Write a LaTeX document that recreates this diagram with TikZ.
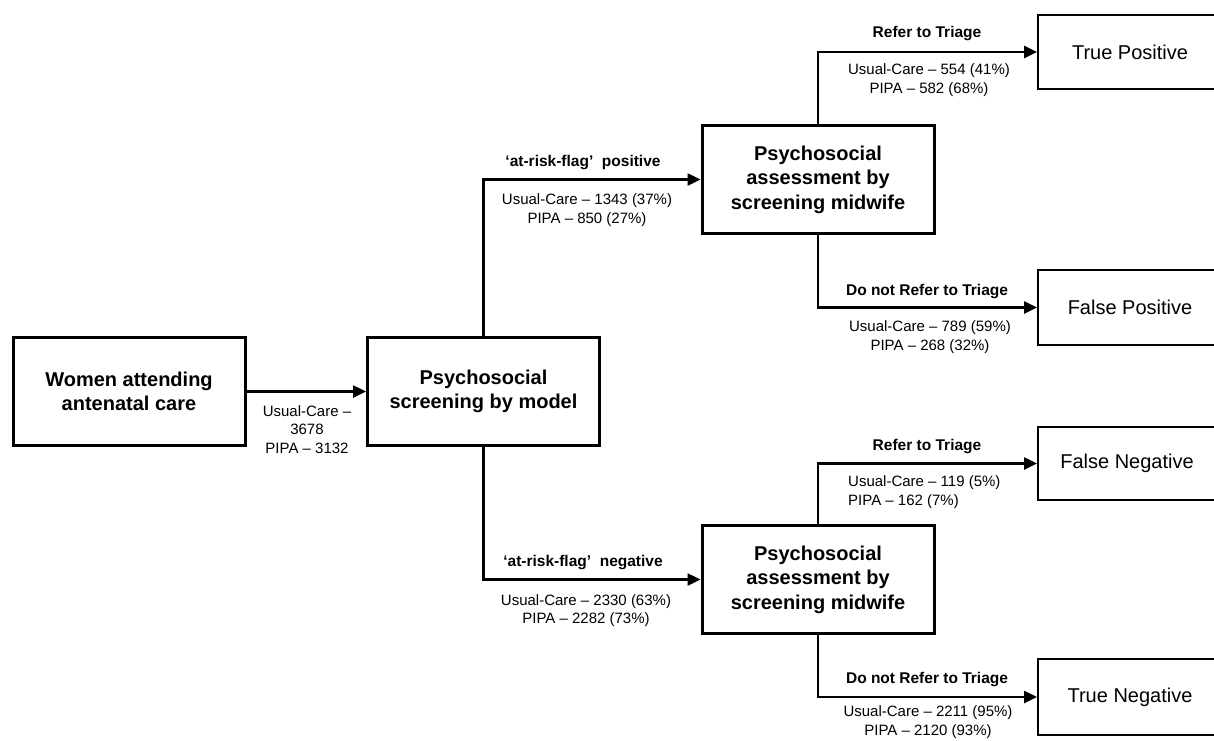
\documentclass[tikz,border=0pt]{standalone}
\usepackage{fontspec}
\setmainfont{Liberation Sans}
\usetikzlibrary{arrows.meta}
\begin{document}
\begin{tikzpicture}[x=1pt,y=-1pt,
  bigbox/.style={draw,line width=3pt,minimum width=232pt,minimum height=108pt,align=center,inner sep=0pt,
     font=\fontsize{20}{24.5}\selectfont\bfseries},
  outbox/.style={draw,line width=2pt,minimum width=178pt,minimum height=73pt,align=center,inner sep=0pt,
     font=\fontsize{20}{24}\selectfont},
  conn/.style={line width=2.5pt,-{Triangle[length=13pt,width=12pt]}},
  branch/.style={font=\fontsize{15.5}{18}\selectfont\bfseries,inner sep=0pt},
  nums/.style={font=\fontsize{15}{18.5}\selectfont,align=center,inner sep=0pt},
  numsl/.style={font=\fontsize{15}{18.5}\selectfont,align=left,inner sep=0pt}
]
\useasboundingbox (0,0) rectangle (1214,740);
\clip (0,0) rectangle (1214,740);

\node[bigbox] (A) at (129,391.5) {Women attending\\antenatal care};
\node[bigbox] (B) at (483.5,391.5) {Psychosocial\\screening by model};
\node[bigbox] (C) at (818,179.5) {Psychosocial\\assessment by\\screening midwife};
\node[bigbox] (D) at (818,579.5) {Psychosocial\\assessment by\\screening midwife};

\node[outbox,minimum width=184pt,minimum height=74pt] (TP) at (1130,52) {True Positive};
\node[outbox,minimum width=184pt,minimum height=75pt] (FP) at (1130,307.5) {False Positive};
\node[outbox,minimum width=178pt,minimum height=73pt] (FN) at (1127,463.5) {False Negative};
\node[outbox,minimum width=184pt,minimum height=76pt] (TN) at (1130,697) {True Negative};

\draw[conn] (A.east) -- (B.west);
\draw[conn] (B.north) |- (C.west);
\draw[conn] (B.south) |- (D.west);
\draw[conn] (C.north) |- (TP.west);
\draw[conn] (C.south) |- (FP.west);
\draw[conn] (D.north) |- (FN.west);
\draw[conn] (D.south) |- (TN.west);

\node[nums,anchor=north] (lab) at (307,405) {Usual-Care –\\3678\\PIPA – 3132};

\node[branch] (bp) at (583,163) {‘at-risk-flag’~ positive};
\node[nums] (np) at (587,210) {Usual-Care – 1343 (37\%)\\PIPA – 850 (27\%)};

\node[branch] (bn) at (583,563) {‘at-risk-flag’~ negative};
\node[nums] (nn) at (586,610.5) {Usual-Care – 2330 (63\%)\\PIPA – 2282 (73\%)};

\node[branch] (btp) at (927,34) {Refer to Triage};
\node[nums] (ntp) at (929,80) {Usual-Care – 554 (41\%)\\PIPA – 582 (68\%)};

\node[branch] (bfp) at (927,292) {Do not Refer to Triage};
\node[nums] (nfp) at (930,337) {Usual-Care – 789 (59\%)\\PIPA – 268 (32\%)};

\node[branch] (bfn) at (927,447) {Refer to Triage};
\node[numsl,anchor=west] (nfn) at (848,492) {Usual-Care – 119 (5\%)\\PIPA – 162 (7\%)};

\node[branch] (btn) at (927,680) {Do not Refer to Triage};
\node[nums] (ntn) at (928,722) {Usual-Care – 2211 (95\%)\\PIPA – 2120 (93\%)};
\end{tikzpicture}
\end{document}
